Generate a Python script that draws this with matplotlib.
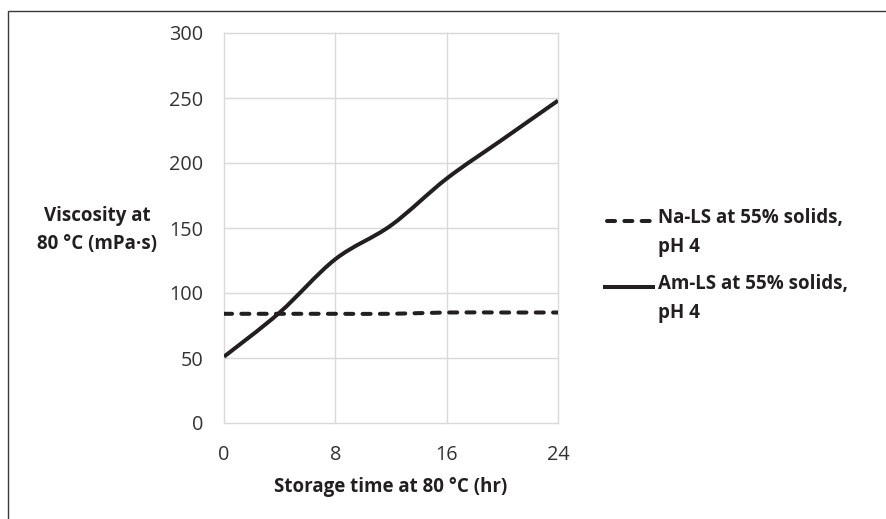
import numpy as np
import matplotlib
matplotlib.use("Agg")
import matplotlib.pyplot as plt
from matplotlib.path import Path
from matplotlib.patches import PathPatch, Rectangle
from matplotlib.lines import Line2D

# ---- data ----
hours = [0, 4, 8, 12, 16, 20, 24]
na_ls = [84, 84, 84, 84, 85, 85, 85]
am_ls = [51, 85, 126, 152, 188, 218, 248]
x_ticks = [0, 8, 16, 24]
y_ticks = [0, 50, 100, 150, 200, 250, 300]
series_labels = ["Na-LS at 55% solids,\npH 4", "Am-LS at 55% solids,\npH 4"]
x_title = "Storage time at 80 °C (hr)"
y_title = "Viscosity at\n80 °C (mPa·s)"

plt.rcParams['font.family'] = ['Open Sans', 'DejaVu Sans']

W, H = 887, 519
fig = plt.figure(figsize=(W / 100, H / 100), dpi=100)
fig.patch.set_facecolor("white")

L, R, T, B = 224, 558, 33, 423
ax = fig.add_axes([L / W, 1 - B / H, (R - L) / W, (B - T) / H])

ink = "#231f20"
lw = 2.9


def smooth_path(xs, ys):
    """Excel-like smoothed line built as cubic Bezier segments."""
    xs = np.asarray(xs, float)
    ys = np.asarray(ys, float)
    n = len(xs)
    verts = [(xs[0], ys[0])]
    codes = [Path.MOVETO]
    t = 1.0 / 6.0
    for i in range(n - 1):
        p0 = np.array([xs[max(i - 1, 0)], ys[max(i - 1, 0)]])
        p1 = np.array([xs[i], ys[i]])
        p2 = np.array([xs[i + 1], ys[i + 1]])
        p3 = np.array([xs[min(i + 2, n - 1)], ys[min(i + 2, n - 1)]])
        c1 = p1 + (p2 - p0) * t
        c2 = p2 - (p3 - p1) * t
        verts += [tuple(c1), tuple(c2), tuple(p2)]
        codes += [Path.CURVE4] * 3
    return Path(verts, codes)


dash = (0, (2.0, 2.3))
ax.add_patch(PathPatch(smooth_path(hours, na_ls), fill=False, edgecolor=ink,
                       lw=lw, linestyle=dash, capstyle='round', zorder=3))
ax.add_patch(PathPatch(smooth_path(hours, am_ls), fill=False, edgecolor=ink,
                       lw=lw, capstyle='butt', zorder=3))

ax.set_xlim(0, 24)
ax.set_ylim(0, 300)
ax.set_xticks(x_ticks)
ax.set_yticks(y_ticks)
ax.grid(True, color="#d9d9d9", lw=1.0)
for gl in ax.get_xgridlines() + ax.get_ygridlines():
    gl.set_clip_on(False)
ax.set_axisbelow(True)
for s in ax.spines.values():
    s.set_visible(False)
ax.tick_params(length=0, labelsize=14.3, colors="#333333")
ax.tick_params(axis='y', pad=15)
ax.tick_params(axis='x', pad=16)

# axis titles
fig.text(391 / W, 1 - 487 / H, x_title, ha='center', va='center',
         fontsize=13.5, fontweight='bold', color=ink)
fig.text(97 / W, 1 - 230 / H, y_title, ha='center', va='center',
         fontsize=13.5, fontweight='bold', color=ink, linespacing=1.5,
         multialignment='center')

# legend
leg_y = [221, 287]
handle_x = [(607, 655), (603, 655)]
styles = [dict(linestyle=dash, dash_capstyle='round'),
          dict(linestyle='-', solid_capstyle='butt')]
for yy, hx, lab, st in zip(leg_y, handle_x, series_labels, styles):
    fig.add_artist(Line2D([hx[0] / W, hx[1] / W], [1 - yy / H, 1 - yy / H],
                          transform=fig.transFigure, color=ink, lw=lw, **st))
    fig.text(658 / W, 1 - (yy - 13) / H, lab, ha='left', va='top',
             fontsize=13.5, fontweight='bold', color=ink, linespacing=1.6)

# outer frame (left and top edges visible)
fig.add_artist(Rectangle((8.5 / W, -0.05), 1.2, (1 - 10.5 / H) + 0.05,
                         transform=fig.transFigure, fill=False,
                         edgecolor="#3a3a3a", lw=1.0))

fig.savefig("out.png", dpi=100)
